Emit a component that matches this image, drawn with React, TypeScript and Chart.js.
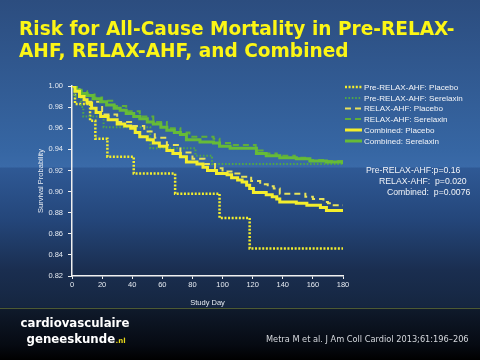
import React, { useEffect, useRef } from "react";
import { Chart, registerables } from "chart.js";

Chart.register(...registerables);

const xTicks = [0, 20, 40, 60, 80, 100, 120, 140, 160, 180];
const yTicks = [0.82, 0.84, 0.86, 0.88, 0.9, 0.92, 0.94, 0.96, 0.98, 1.0];

const preRelaxPlaceboDays = [0, 2, 12, 15.5, 23.5, 41, 68.5, 98, 118, 180];
const preRelaxPlaceboSurv = [1.0, 0.983, 0.967, 0.95, 0.933, 0.917, 0.898, 0.875, 0.846, 0.846];

const preRelaxSerelaxinDays = [0, 1.5, 6, 7.5, 21, 52, 82, 93, 180];
const preRelaxSerelaxinSurv = [1.0, 0.99, 0.98, 0.971, 0.961, 0.941, 0.934, 0.926, 0.926];

const relaxPlaceboDays = [0, 5, 10, 20, 30, 40, 48, 55, 63, 72, 80, 88, 95, 100, 107, 113, 119, 125, 130, 134, 138, 155, 160, 167, 170, 172, 180];
const relaxPlaceboSurv = [1.0, 0.992, 0.985, 0.973, 0.966, 0.962, 0.957, 0.951, 0.944, 0.937, 0.931, 0.926, 0.922, 0.919, 0.917, 0.914, 0.91, 0.907, 0.905, 0.903, 0.898, 0.895, 0.893, 0.89, 0.889, 0.887, 0.887];

const relaxSerelaxinDays = [0, 4, 10, 15, 20, 28, 36, 45, 54, 63, 72, 78, 94, 98, 106, 122, 128, 136, 148, 158, 168, 180];
const relaxSerelaxinSurv = [1.0, 0.995, 0.992, 0.989, 0.986, 0.981, 0.976, 0.971, 0.966, 0.96, 0.956, 0.952, 0.95, 0.946, 0.944, 0.939, 0.936, 0.934, 0.932, 0.93, 0.929, 0.928];

const combinedPlaceboDays = [0, 2, 5, 8, 10, 13, 16, 19, 24, 30, 35, 39, 42, 45, 50, 54, 58, 63, 67, 72, 76, 83, 87, 90, 96, 103, 106, 110, 113, 116, 118, 120.5, 129, 133, 136, 138, 149, 156, 165, 169, 180];
const combinedPlaceboSurv = [1.0, 0.995, 0.99, 0.987, 0.984, 0.979, 0.975, 0.971, 0.968, 0.964, 0.962, 0.96, 0.956, 0.952, 0.949, 0.946, 0.943, 0.939, 0.936, 0.933, 0.928, 0.926, 0.923, 0.92, 0.917, 0.916, 0.913, 0.911, 0.909, 0.906, 0.903, 0.899, 0.897, 0.895, 0.893, 0.89, 0.889, 0.887, 0.885, 0.882, 0.881];

const combinedSerelaxinDays = [0, 3, 6, 10, 14, 19, 23, 28, 32, 36, 41, 45, 50, 54, 59, 63, 68, 72, 76, 85, 94, 98, 105, 122.5, 129, 138, 149, 158, 169, 180];
const combinedSerelaxinSurv = [1.0, 0.996, 0.993, 0.991, 0.988, 0.985, 0.982, 0.979, 0.977, 0.974, 0.971, 0.969, 0.966, 0.964, 0.961, 0.958, 0.956, 0.954, 0.949, 0.947, 0.946, 0.943, 0.941, 0.936, 0.934, 0.932, 0.931, 0.929, 0.928, 0.926];

const seriesLabels = [
  "Pre-RELAX-AHF: Placebo",
  "Pre-RELAX-AHF: Serelaxin",
  "RELAX-AHF: Placebo",
  "RELAX-AHF: Serelaxin",
  "Combined: Placebo",
  "Combined: Serelaxin",
];

const pValueLines = ["Pre-RELAX-AHF:p=0.16", "RELAX-AHF:  p=0.020", "Combined:  p=0.0076"];

const titleLines = ["Risk for All-Cause Mortality in Pre-RELAX-", "AHF, RELAX-AHF, and Combined"];
const citation = "Metra M et al. J Am Coll Cardiol 2013;61:196\u2013206";

const YELLOW = "#f4ee2c";
const GREEN = "#66bb38";
const GREEN_DOT = "#4fa648";

const styles = [
  { color: YELLOW, width: 2.5, dash: [2, 1.6] },
  { color: GREEN_DOT, width: 2, dash: [1.6, 1.8] },
  { color: "#e8e25a", width: 2, dash: [6, 4] },
  { color: "#5fae3a", width: 2, dash: [6, 4] },
  { color: YELLOW, width: 3, dash: [] as number[] },
  { color: GREEN, width: 3, dash: [] as number[] },
];

function pts(days: number[], surv: number[]) {
  return days.map((d, i) => ({ x: d, y: surv[i] }));
}

function fitFont(ctx: CanvasRenderingContext2D, text: string, weight: string, family: string, width: number) {
  ctx.font = `${weight} 20px ${family}`;
  const w = ctx.measureText(text).width;
  return (20 * width) / w;
}

const slidePlugin = {
  id: "slideText",
  afterDraw(chart: any) {
    const ctx: CanvasRenderingContext2D = chart.ctx;
    const area = chart.chartArea;
    ctx.save();
    // Title
    const tSize = fitFont(ctx, titleLines[0], "bold", "'DejaVu Sans'", 436);
    ctx.font = `bold ${tSize}px 'DejaVu Sans'`;
    ctx.fillStyle = "#fcf615";
    ctx.textAlign = "left";
    ctx.textBaseline = "alphabetic";
    ctx.fillText(titleLines[0], 19, 35);
    ctx.fillText(titleLines[1], 19, 57);

    // Legend
    const lSize = fitFont(ctx, seriesLabels[1], "normal", "'Liberation Sans'", 99);
    const rows = [87, 98, 108.5, 119, 130, 141];
    ctx.textBaseline = "middle";
    seriesLabels.forEach((lab, i) => {
      const s = styles[i];
      ctx.save();
      ctx.strokeStyle = s.color;
      ctx.lineWidth = s.width;
      ctx.setLineDash(s.dash);
      ctx.beginPath();
      ctx.moveTo(345, rows[i]);
      ctx.lineTo(362, rows[i]);
      ctx.stroke();
      ctx.restore();
      ctx.font = `${lSize}px 'Liberation Sans'`;
      ctx.fillStyle = "#f2f4f8";
      ctx.fillText(lab, 364, rows[i] + 0.5);
    });

    // p-values
    ctx.font = `${lSize + 0.6}px 'Liberation Sans'`;
    ctx.fillStyle = "#f2f4f8";
    const pLeft = [366, 379, 387];
    const pY = [171, 182, 192.5];
    pValueLines.forEach((t, i) => ctx.fillText(t, pLeft[i], pY[i]));

    // Axis titles
    ctx.font = "7.5px 'Liberation Sans'";
    ctx.fillStyle = "#e6ebf2";
    ctx.textAlign = "center";
    ctx.fillText("Study Day", (area.left + area.right) / 2, 302.5);
    ctx.save();
    ctx.translate(41, (area.top + area.bottom) / 2);
    ctx.rotate(-Math.PI / 2);
    ctx.fillText("Survival Probability", 0, 0);
    ctx.restore();

    // Footer separator
    ctx.strokeStyle = "#4d5a33";
    ctx.lineWidth = 1;
    ctx.beginPath();
    ctx.moveTo(0, 308.5);
    ctx.lineTo(480, 308.5);
    ctx.stroke();

    // Footer logo
    ctx.textAlign = "left";
    ctx.textBaseline = "alphabetic";
    const fSize = fitFont(ctx, "cardiovasculaire", "bold", "'DejaVu Sans'", 109);
    ctx.font = `bold ${fSize}px 'DejaVu Sans'`;
    ctx.fillStyle = "#ffffff";
    ctx.fillText("cardiovasculaire", 20.5, 327);
    ctx.fillText("geneeskunde", 26.5, 342.5);
    const gw = ctx.measureText("geneeskunde").width;
    ctx.font = `bold ${fSize * 0.6}px 'DejaVu Sans'`;
    ctx.fillStyle = "#e8d81a";
    ctx.fillText(".nl", 26.5 + gw + 0.5, 342.5);

    // Citation
    const cSize = fitFont(ctx, citation, "normal", "'DejaVu Sans'", 203);
    ctx.font = `${cSize}px 'DejaVu Sans'`;
    ctx.fillStyle = "#d6d9de";
    ctx.fillText(citation, 266, 341.5);
    ctx.restore();
  },
};

export default function App() {
  const ref = useRef<HTMLCanvasElement>(null);
  useEffect(() => {
    if (!ref.current) return;
    const series = [
      pts(preRelaxPlaceboDays, preRelaxPlaceboSurv),
      pts(preRelaxSerelaxinDays, preRelaxSerelaxinSurv),
      pts(relaxPlaceboDays, relaxPlaceboSurv),
      pts(relaxSerelaxinDays, relaxSerelaxinSurv),
      pts(combinedPlaceboDays, combinedPlaceboSurv),
      pts(combinedSerelaxinDays, combinedSerelaxinSurv),
    ];
    const drawOrder = [6, 5, 4, 3, 1, 2];
    const chart = new Chart(ref.current, {
      type: "line",
      data: {
        datasets: series.map((data, i) => ({
          label: seriesLabels[i],
          data,
          borderColor: styles[i].color,
          borderWidth: styles[i].width,
          borderDash: styles[i].dash,
          pointRadius: 0,
          stepped: "before" as const,
          fill: false,
          order: drawOrder[i],
        })),
      },
      options: {
        animation: false,
        responsive: false,
        layout: { padding: { left: 0, top: 86, right: 137, bottom: 0 } },
        plugins: { legend: { display: false }, title: { display: false }, tooltip: { enabled: false } },
        scales: {
          x: {
            type: "linear",
            min: 0,
            max: 180,
            afterFit: (s: any) => { s.height = 84; },
            afterBuildTicks: (s: any) => { s.ticks = xTicks.map((v) => ({ value: v })); },
            ticks: { color: "#e6ebf2", font: { family: "'Liberation Sans'", size: 7.5 }, padding: 1, maxRotation: 0 },
            grid: { display: true, drawOnChartArea: false, drawTicks: true, tickLength: 3, color: "#f0f0f0" },
            border: { display: true, color: "#f0f0f0", width: 1.5 },
          },
          y: {
            type: "linear",
            min: 0.82,
            max: 1.0,
            afterFit: (s: any) => { s.width = 72; },
            afterBuildTicks: (s: any) => { s.ticks = yTicks.map((v) => ({ value: v })); },
            ticks: {
              color: "#e6ebf2",
              font: { family: "'Liberation Sans'", size: 7.5 },
              padding: 5,
              callback: (v: any) => Number(v).toFixed(2),
            },
            grid: { display: true, drawOnChartArea: false, drawTicks: true, tickLength: 4, color: "#f0f0f0" },
            border: { display: true, color: "#f0f0f0", width: 1.5 },
          },
        },
      },
      plugins: [slidePlugin],
    } as any);
    return () => chart.destroy();
  }, []);

  const bg =
    "linear-gradient(to bottom, #2c4d7f 0px, #3666a3 150px, #3a6aa8 167px, #2f5995 168px, #24467a 220px, #1a2e50 270px, #152640 307px, #0f1a2b 309px, #060a12 345px, #000000 360px)";

  return (
    <div style={{ position: "fixed", left: 0, top: 0, width: 480, height: 360, background: bg }}>
      <canvas ref={ref} width={480} height={360} style={{ display: "block", width: 480, height: 360 }} />
    </div>
  );
}
